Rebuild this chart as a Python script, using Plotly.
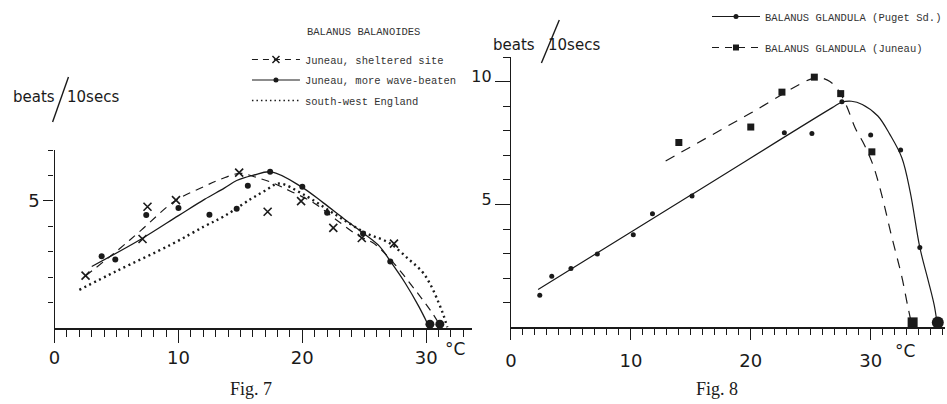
import plotly.graph_objects as go

W, H = 947, 404
INK = "#1a1a1a"
LABEL_FONT = "DejaVu Sans"
TYPE_FONT = "Liberation Mono"

# ---------------- Fig. 7  Balanus balanoides ----------------
# Juneau, sheltered site (crosses + dashed curve)
shelt_temp = [2.5, 7.1, 7.5, 9.8, 14.9, 17.2, 19.9, 22.5, 24.8, 27.4]
shelt_rate = [2.06, 3.5, 4.77, 5.03, 6.11, 4.57, 4.99, 3.94, 3.54, 3.32]
shelt_curve_t = [2.5, 5.15, 7.0, 9.7, 12.1, 13.4, 15.0, 16.3, 17.7, 19.0,
                 20.9, 22.7, 24.6, 25.7, 27.0, 29.1, 30.5, 31.0]
shelt_curve_r = [2.05, 3.08, 3.85, 4.99, 5.57, 5.85, 6.08, 5.92, 5.69, 5.39,
                 4.93, 4.27, 3.61, 3.35, 2.76, 1.5, 0.58, 0.19]

# Juneau, more wave-beaten (dots + solid curve)
wave_temp = [3.8, 4.9, 7.4, 10.0, 12.5, 14.7, 15.6, 17.4, 20.0, 22.0, 24.9, 27.1]
wave_rate = [2.82, 2.69, 4.44, 4.72, 4.45, 4.69, 5.59, 6.14, 5.55, 4.53, 3.72, 2.62]
wave_curve_t = [3.0, 7.0, 10.0, 12.1, 13.7, 14.7, 16.0, 17.5, 19.9, 21.7,
                23.3, 24.9, 26.2, 27.1, 28.3, 29.4, 30.1]
wave_curve_r = [2.42, 3.5, 4.42, 5.06, 5.5, 5.8, 6.0, 6.14, 5.56, 4.92,
                4.32, 3.74, 3.23, 2.63, 1.77, 0.85, 0.18]

# south-west England (dotted curve only)
swe_curve_t = [2.0, 5.0, 9.4, 12.1, 13.7, 15.8, 17.0, 18.1, 20.1, 22.7,
               25.1, 27.0, 28.6, 29.7, 30.4, 31.0, 31.4, 31.7]
swe_curve_r = [1.5, 2.24, 3.28, 4.0, 4.4, 5.06, 5.4, 5.68, 5.25, 4.45,
               3.74, 3.35, 2.7, 2.2, 1.65, 1.0, 0.5, 0.03]

# temperatures at which beating stopped
fig7_stop_temp = [30.3, 31.1]
fig7_stop_rate = [0.15, 0.15]

# ---------------- Fig. 8  Balanus glandula ----------------
puget_temp = [2.4, 3.4, 5.0, 7.2, 10.2, 11.8, 15.1, 22.8, 25.1, 27.6, 30.0, 32.5, 34.1]
puget_rate = [1.30, 2.08, 2.39, 2.98, 3.77, 4.62, 5.34, 7.92, 7.89, 9.18, 7.83, 7.22, 3.25]
puget_curve_t = [2.26, 15.0, 26.8, 27.6, 28.4, 29.3, 30.6, 31.6, 32.6, 33.3,
                 34.1, 34.8, 35.3, 35.5]
puget_curve_r = [1.54, 5.38, 8.94, 9.16, 9.2, 9.07, 8.6, 7.85, 6.9, 5.5,
                 3.25, 1.9, 0.9, 0.3]
puget_stop_temp = [35.6]
puget_stop_rate = [0.2]

juneau_temp = [14.0, 20.0, 22.6, 25.3, 27.5, 30.1]
juneau_rate = [7.52, 8.15, 9.57, 10.18, 9.51, 7.14]
juneau_curve_t = [12.9, 20.0, 25.0, 25.8, 26.6, 27.3, 28.0, 28.7, 29.5, 30.2,
                  30.9, 31.7, 32.6, 33.1, 33.4]
juneau_curve_r = [6.77, 8.72, 10.1, 10.15, 10.0, 9.65, 9.0, 8.12, 7.4, 6.6,
                  5.43, 3.8, 2.05, 0.84, 0.16]
juneau_stop_temp = [33.5]
juneau_stop_rate = [0.2]

x_tick_vals = [0, 10, 20, 30]
x_tick_text = ["0", "10", "20", "30"]


def px(p):
    return p / W


def py(p):
    return 1 - p / H


fig = go.Figure()

# ---- Fig. 7 traces ----
fig.add_trace(go.Scatter(x=swe_curve_t, y=swe_curve_r, mode="lines", line_shape="spline",
                         line=dict(color=INK, width=2.4, dash="2px,3.5px"),
                         xaxis="x", yaxis="y", showlegend=False, hoverinfo="skip"))
fig.add_trace(go.Scatter(x=shelt_curve_t, y=shelt_curve_r, mode="lines", line_shape="spline",
                         line=dict(color=INK, width=1.2, dash="8px,6px"),
                         xaxis="x", yaxis="y", showlegend=False, hoverinfo="skip"))
fig.add_trace(go.Scatter(x=wave_curve_t, y=wave_curve_r, mode="lines", line_shape="spline",
                         line=dict(color=INK, width=1.3),
                         xaxis="x", yaxis="y", showlegend=False, hoverinfo="skip"))
fig.add_trace(go.Scatter(x=shelt_temp, y=shelt_rate, mode="markers", cliponaxis=False,
                         marker=dict(symbol="x-thin-open", size=8, color=INK,
                                     line=dict(color=INK, width=1.6)),
                         xaxis="x", yaxis="y", showlegend=False))
fig.add_trace(go.Scatter(x=wave_temp, y=wave_rate, mode="markers", cliponaxis=False,
                         marker=dict(symbol="circle", size=6, color=INK),
                         xaxis="x", yaxis="y", showlegend=False))
fig.add_trace(go.Scatter(x=fig7_stop_temp, y=fig7_stop_rate, mode="markers", cliponaxis=False,
                         marker=dict(symbol="circle", size=9, color=INK),
                         xaxis="x", yaxis="y", showlegend=False))

# legend keys for Fig. 7
fig.add_trace(go.Scatter(x=[None], y=[None], mode="lines+markers", name="Juneau, sheltered site",
                         legendgroup="shelt",
                         line=dict(color=INK, width=1.2, dash="6px,5px"),
                         marker=dict(symbol="x-thin-open", size=7, line=dict(color=INK, width=1.5)),
                         xaxis="x", yaxis="y", legend="legend"))
fig.add_trace(go.Scatter(x=[None], y=[None], mode="lines+markers", name="Juneau, more wave-beaten",
                         legendgroup="wave",
                         line=dict(color=INK, width=1.2),
                         marker=dict(symbol="circle", size=5, color=INK),
                         xaxis="x", yaxis="y", legend="legend"))
fig.add_trace(go.Scatter(x=[None], y=[None], mode="lines", name="south-west England",
                         legendgroup="swe",
                         line=dict(color=INK, width=1.6, dash="1.5px,3px"),
                         xaxis="x", yaxis="y", legend="legend"))

# ---- Fig. 8 traces ----
fig.add_trace(go.Scatter(x=juneau_curve_t, y=juneau_curve_r, mode="lines", line_shape="spline",
                         line=dict(color=INK, width=1.2, dash="10px,8px"),
                         xaxis="x2", yaxis="y2", showlegend=False, hoverinfo="skip"))
fig.add_trace(go.Scatter(x=puget_curve_t, y=puget_curve_r, mode="lines", line_shape="spline",
                         line=dict(color=INK, width=1.2),
                         xaxis="x2", yaxis="y2", showlegend=False, hoverinfo="skip"))
fig.add_trace(go.Scatter(x=puget_temp, y=puget_rate, mode="markers", cliponaxis=False,
                         marker=dict(symbol="circle", size=5, color=INK),
                         xaxis="x2", yaxis="y2", showlegend=False))
fig.add_trace(go.Scatter(x=juneau_temp, y=juneau_rate, mode="markers", cliponaxis=False,
                         marker=dict(symbol="square", size=7, color=INK),
                         xaxis="x2", yaxis="y2", showlegend=False))
fig.add_trace(go.Scatter(x=puget_stop_temp, y=puget_stop_rate, mode="markers", cliponaxis=False,
                         marker=dict(symbol="circle", size=12, color=INK),
                         xaxis="x2", yaxis="y2", showlegend=False))
fig.add_trace(go.Scatter(x=juneau_stop_temp, y=juneau_stop_rate, mode="markers", cliponaxis=False,
                         marker=dict(symbol="square", size=10, color=INK),
                         xaxis="x2", yaxis="y2", showlegend=False))

# legend keys for Fig. 8
fig.add_trace(go.Scatter(x=[None], y=[None], mode="lines+markers",
                         name="BALANUS GLANDULA (Puget Sd.)", legendgroup="puget",
                         line=dict(color=INK, width=1.2),
                         marker=dict(symbol="circle", size=5, color=INK),
                         xaxis="x2", yaxis="y2", legend="legend2"))
fig.add_trace(go.Scatter(x=[None], y=[None], mode="lines+markers",
                         name="BALANUS GLANDULA (Juneau)", legendgroup="juneau",
                         line=dict(color=INK, width=1.2, dash="7px,6px"),
                         marker=dict(symbol="square", size=6, color=INK),
                         xaxis="x2", yaxis="y2", legend="legend2"))

axis_common = dict(showline=True, linecolor=INK, showgrid=False, zeroline=False,
                   ticks="outside", tickcolor=INK, fixedrange=True)

fig.update_layout(
    width=W, height=H,
    margin=dict(l=0, r=0, t=0, b=0),
    paper_bgcolor="white", plot_bgcolor="white",
    font=dict(family=LABEL_FONT, color=INK),
    xaxis=dict(**axis_common, domain=[px(49), px(470)], range=[0, 33.7], anchor="y",
               linewidth=1.6, tickvals=x_tick_vals, ticktext=x_tick_text,
               ticklen=13, tickwidth=1.3,
               tickfont=dict(size=18, family=LABEL_FONT),
               minor=dict(tickmode="linear", tick0=0, dtick=1, ticks="outside",
                          ticklen=7, tickwidth=1, tickcolor=INK)),
    yaxis=dict(**axis_common, domain=[py(328), py(150)], range=[0, 7], anchor="x",
               linewidth=1.4, tickvals=[5], ticktext=["5"], ticklen=10, tickwidth=1.2,
               tickfont=dict(size=18, family=LABEL_FONT),
               minor=dict(tickmode="array", tickvals=[1, 2, 3, 4, 6, 7], ticks="outside",
                          ticklen=5, tickwidth=1, tickcolor=INK)),
    xaxis2=dict(**axis_common, domain=[px(509.3), 1.0], range=[0, 36.2], anchor="y2",
                linewidth=1.6, tickvals=x_tick_vals, ticktext=x_tick_text,
                ticklen=11, tickwidth=1.3, ticklabelstandoff=5,
                tickfont=dict(size=18, family=LABEL_FONT),
                minor=dict(tickmode="linear", tick0=0, dtick=1, ticks="outside",
                           ticklen=6, tickwidth=1, tickcolor=INK)),
    yaxis2=dict(**axis_common, domain=[py(327.3), py(57)], range=[0, 11], anchor="x2",
                linewidth=1.4, tickvals=[5, 10], ticktext=["5", "10"], ticklen=15,
                tickwidth=1.2, ticklabelshift=-5, tickfont=dict(size=16, family=LABEL_FONT),
                minor=dict(tickmode="array", tickvals=[1, 2, 3, 4, 6, 7, 8, 9, 11],
                           ticks="outside", ticklen=7, tickwidth=1, tickcolor=INK)),
    legend=dict(x=px(243), y=py(45), xanchor="left", yanchor="top",
                bgcolor="rgba(0,0,0,0)", borderwidth=0, itemwidth=48,
                font=dict(family=TYPE_FONT, size=10.5, color="#333"),
                tracegroupgap=1.5, traceorder="grouped",
                itemclick=False, itemdoubleclick=False),
    legend2=dict(x=px(707), y=py(2), xanchor="left", yanchor="top",
                 bgcolor="rgba(0,0,0,0)", borderwidth=0, itemwidth=48,
                 font=dict(family=TYPE_FONT, size=10.5, color="#333"),
                 tracegroupgap=12, traceorder="grouped",
                 itemclick=False, itemdoubleclick=False),
)


def label(text, x, y, size=15, family=LABEL_FONT, xanchor="center", color=INK):
    fig.add_annotation(text=text, x=px(x), y=py(y), xref="paper", yref="paper",
                       showarrow=False, xanchor=xanchor, yanchor="middle",
                       font=dict(size=size, family=family, color=color))


# legend heading for Fig. 7
label("BALANUS BALANOIDES", 302, 32, size=10.5, family=TYPE_FONT, xanchor="left", color="#333")

# y-axis titles: "beats / 10 secs" with a long stroke
label("beats", 51, 97, xanchor="right")
label("10secs", 59, 97, xanchor="left")
label("beats", 536, 45, xanchor="right")
label("10secs", 545, 45, xanchor="left")
fig.add_shape(type="line", xref="paper", yref="paper", x0=px(63), y0=py(77),
              x1=px(47), y1=py(122), line=dict(color=INK, width=1.4))
fig.add_shape(type="line", xref="paper", yref="paper", x0=px(558), y0=py(20),
              x1=px(540), y1=py(63), line=dict(color=INK, width=1.4))

# temperature unit
label("°C", 453, 349, size=17)
label("°C", 907, 351, size=17)

# figure captions
label("Fig. 7", 247, 389, size=18, family="Liberation Serif")
label("Fig. 8", 717, 389, size=18, family="Liberation Serif")

fig.write_html("out.html")
